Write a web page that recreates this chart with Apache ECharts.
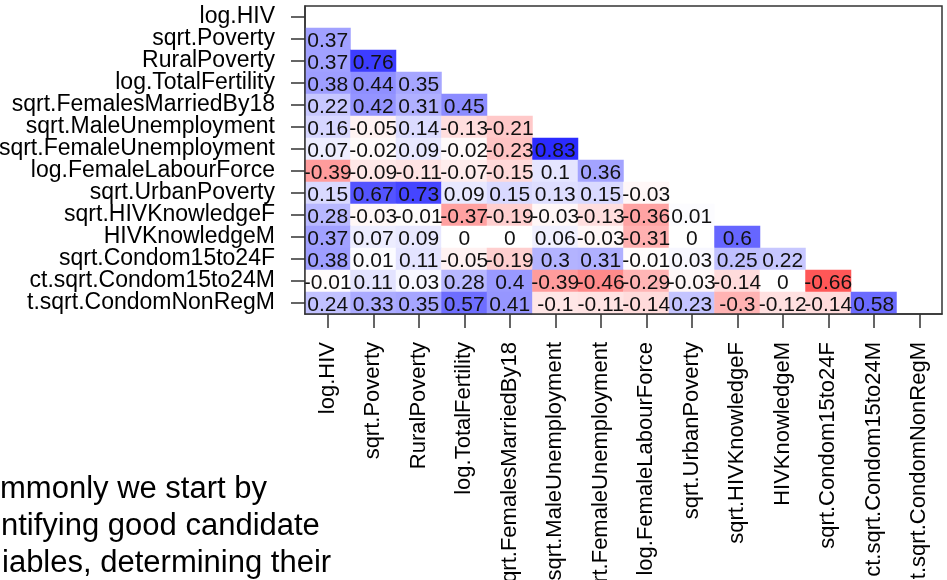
<!DOCTYPE html>
<html>
<head>
<meta charset="utf-8">
<script src="https://cdn.jsdelivr.net/npm/echarts@6/dist/echarts.min.js"></script>
<style>
html,body{margin:0;padding:0;background:#fff;}
#chart{width:947px;height:580px;}
</style>
</head>
<body>
<div id="chart"></div>
<script>
// Variables (rows top-to-bottom, columns left-to-right)
const categories = [
  "log.HIV", "sqrt.Poverty", "RuralPoverty", "log.TotalFertility",
  "sqrt.FemalesMarriedBy18", "sqrt.MaleUnemployment", "sqrt.FemaleUnemployment",
  "log.FemaleLabourForce", "sqrt.UrbanPoverty", "sqrt.HIVKnowledgeF",
  "HIVKnowledgeM", "sqrt.Condom15to24F", "ct.sqrt.Condom15to24M", "t.sqrt.CondomNonRegM"
];

// Lower-triangle correlations, one array per row
const row_logHIV = [];
const row_sqrtPoverty = [0.37];
const row_RuralPoverty = [0.37, 0.76];
const row_logTotalFertility = [0.38, 0.44, 0.35];
const row_FemalesMarriedBy18 = [0.22, 0.42, 0.31, 0.45];
const row_MaleUnemployment = [0.16, -0.05, 0.14, -0.13, -0.21];
const row_FemaleUnemployment = [0.07, -0.02, 0.09, -0.02, -0.23, 0.83];
const row_FemaleLabourForce = [-0.39, -0.09, -0.11, -0.07, -0.15, 0.1, 0.36];
const row_UrbanPoverty = [0.15, 0.67, 0.73, 0.09, 0.15, 0.13, 0.15, -0.03];
const row_HIVKnowledgeF = [0.28, -0.03, -0.01, -0.37, -0.19, -0.03, -0.13, -0.36, 0.01];
const row_HIVKnowledgeM = [0.37, 0.07, 0.09, 0, 0, 0.06, -0.03, -0.31, 0, 0.6];
const row_Condom15to24F = [0.38, 0.01, 0.11, -0.05, -0.19, 0.3, 0.31, -0.01, 0.03, 0.25, 0.22];
const row_Condom15to24M = [-0.01, 0.11, 0.03, 0.28, 0.4, -0.39, -0.46, -0.29, -0.03, -0.14, 0, -0.66];
const row_CondomNonRegM = [0.24, 0.33, 0.35, 0.57, 0.41, -0.1, -0.11, -0.14, 0.23, -0.3, -0.12, -0.14, 0.58];

const rows = [
  row_logHIV, row_sqrtPoverty, row_RuralPoverty, row_logTotalFertility,
  row_FemalesMarriedBy18, row_MaleUnemployment, row_FemaleUnemployment,
  row_FemaleLabourForce, row_UrbanPoverty, row_HIVKnowledgeF,
  row_HIVKnowledgeM, row_Condom15to24F, row_Condom15to24M, row_CondomNonRegM
];

// Visible fragment of slide body text below the chart
const slideLines = ["mmonly we start by", "ntifying good candidate", "iables, determining their"];

const data = [];
rows.forEach((r, i) => r.forEach((v, j) => data.push([j, i, v])));

const FONT = "'Liberation Sans', Arial, Helvetica, sans-serif";
const chart = echarts.init(document.getElementById('chart'), null, {renderer: 'canvas'});

chart.setOption({
  animation: false,
  backgroundColor: '#ffffff',
  grid: {
    left: 305, right: 5, top: 6, bottom: 266,
    outerBoundsMode: 'none',
    containLabel: false,
    show: true, borderColor: '#333', borderWidth: 1.5, backgroundColor: 'transparent'
  },
  xAxis: {
    type: 'category',
    data: categories,
    z: 10,
    splitArea: {show: false},
    splitLine: {show: false},
    axisLine: {show: true, lineStyle: {color: '#333', width: 1.5}},
    axisTick: {show: true, alignWithLabel: true, length: 14, lineStyle: {color: '#333', width: 1.5}},
    axisLabel: {interval: 0, rotate: 90, margin: 28, fontSize: 22, color: '#000', fontFamily: FONT}
  },
  yAxis: {
    type: 'category',
    data: categories,
    inverse: true,
    z: 10,
    splitArea: {show: false},
    splitLine: {show: false},
    axisLine: {show: true, lineStyle: {color: '#333', width: 1.5}},
    axisTick: {show: true, alignWithLabel: true, length: 14, lineStyle: {color: '#333', width: 1.5}},
    axisLabel: {interval: 0, margin: 30, fontSize: 23, color: '#000', fontFamily: FONT}
  },
  visualMap: {
    show: false,
    type: 'continuous',
    min: -1, max: 1,
    dimension: 2,
    inRange: {color: ['#ff0000', '#ffffff', '#0000ff']}
  },
  series: [{
    type: 'heatmap',
    data: data,
    itemStyle: {borderWidth: 0},
    label: {
      show: true,
      formatter: p => String(p.value[2]),
      fontSize: 21,
      color: '#111',
      fontFamily: FONT,
      offset: [0, 2]
    },
    emphasis: {disabled: true}
  }],
  graphic: slideLines.map((t, i) => ({
    type: 'text',
    left: [0, 1, 2][i],
    top: 474 + i * 37,
    style: {text: t, fontSize: 31, fill: '#000', font: '31px ' + FONT}
  }))
});
</script>
</body>
</html>
